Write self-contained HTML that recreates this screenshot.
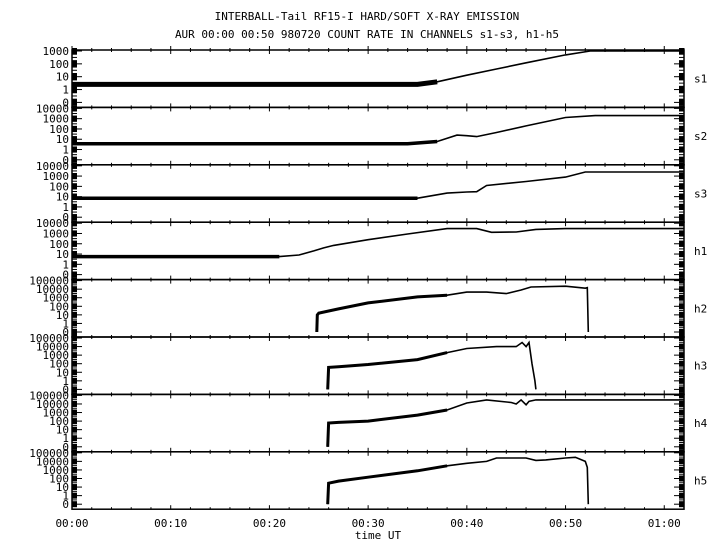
<!DOCTYPE html>
<html><head><meta charset="utf-8"><style>
body{margin:0;background:#fff}
svg{display:block;font-family:"DejaVu Sans Mono","Liberation Mono",monospace}
</style></head><body>
<svg id="c" width="720" height="550" viewBox="0 0 720 550">
<text x="367" y="20" font-size="11" text-anchor="middle">INTERBALL-Tail RF15-I HARD/SOFT X-RAY EMISSION</text>
<text x="367" y="38" font-size="11" text-anchor="middle">AUR 00:00 00:50 980720  COUNT RATE IN CHANNELS s1-s3, h1-h5</text>
<text x="378" y="539" font-size="11" text-anchor="middle">time UT</text>
</svg>
<script>
const panelNames=["s1","s2","s3","h1","h2","h3","h4","h5"];
const panelMax=[1000,10000,10000,10000,100000,100000,100000,100000];
const t_s1=[0,35,37,40,43,46,50,52.5,62];
const v_s1=[2.5,2.5,4,13,40,120,500,1000,1000];
const t_s2=[0,34,37,39,40,41,43,46,50,53,62];
const v_s2=[3.7,3.7,6,25,22,18,45,200,1300,2000,2000];
const t_s3=[0,35,38,40,41,42,46,50,52,62];
const v_s3=[7,7,22,28,30,120,300,800,2500,2500];
const t_h1=[0,21,23,24.5,25.5,26.5,30,34,38,41,42.5,45,47,50,62];
const v_h1=[5.6,5.6,8,20,40,70,250,900,3000,3000,1300,1400,2500,3000,3000];
const t_h2=[24.8,24.85,25,27,30,35,38,40,42,44,45.5,46.5,50,52,52.2,52.3];
const v_h2=[0,10,16,50,250,1250,2000,4500,4500,3000,8000,18000,22000,13000,15000,0];
const t_h3=[25.9,26,27,30,35,38,40,43,45,45.6,46,46.3,46.6,46.9,47];
const v_h3=[0,37,45,80,300,2000,6000,10000,10000,30000,10000,30000,100,1,0];
const t_h4=[25.9,26,27,30,35,38,40,42,44.5,45,45.5,46,46.3,47,62];
const v_h4=[0,60,70,100,500,2000,13000,30000,15000,10000,30000,8000,20000,30000,30000];
const t_h5=[25.9,26,27,30,35,38,40,42,43,46,47,48,50,51,52,52.2,52.3];
const v_h5=[0,28,50,140,800,3000,6000,10000,25000,25000,13000,15000,25000,30000,10000,2000,0];
const noisyUntil=[37,38,36,22,0,0,0,0];
const xTicks=[0,10,20,30,40,50,60];
const xTickLabels=["00:00","00:10","00:20","00:30","00:40","00:50","01:00"];

const T=[t_s1,t_s2,t_s3,t_h1,t_h2,t_h3,t_h4,t_h5];
const V=[v_s1,v_s2,v_s3,v_h1,v_h2,v_h3,v_h4,v_h5];
const svg=document.getElementById('c');
const NS="http://www.w3.org/2000/svg";
const L=72,R=684,top0=50,PH=57.4;
function x(t){return L+t*(R-L)/62;}
function mk(tag,at){const e=document.createElementNS(NS,tag);for(const k in at)e.setAttribute(k,at[k]);svg.appendChild(e);return e;}
panelNames.forEach((nm,i)=>{
  const pt=top0+i*PH, pb=pt+PH;
  const n=Math.round(Math.log10(panelMax[i]))+1;
  const step=(PH-6)/n, y0=pb-5;
  const y=v=>{let k=v<1?v:1+Math.log10(v);return Math.max(pt+0.5,y0-k*step);};
  const fr=mk('rect',{x:L,y:pt,width:R-L,height:PH,fill:'none',stroke:'#000','stroke-width':1.5});
  
  
  for(let m=0;m<=62;m+=2){const big=m%10===0;
    const tk=mk('line',{x1:x(m),x2:x(m),y1:pt-(big?4:2),y2:pt+(big?4:2),stroke:'#000','stroke-width':1});
    
    }
  const labs=["0"];for(let k=0;k<n;k++)labs.push(String(Math.pow(10,k)));
  labs.forEach((lb,k)=>{const yy=y0-k*step;
    const tx=mk('text',{x:L-3,y:yy+4,'font-size':11,'text-anchor':'end'});tx.textContent=lb;
    
    
    mk('rect',{x:L,y:yy-3,width:5,height:6,fill:'#000'});
    mk('line',{x1:L,x2:L+10,y1:yy,y2:yy,stroke:'#000'});
    mk('rect',{x:R-5,y:yy-3,width:5,height:6,fill:'#000'});
    mk('line',{x1:R-10,x2:R,y1:yy,y2:yy,stroke:'#000'});
    for(let s=1;s<4;s++){const ys=yy-s*step/4; if(ys>pt+1){mk('line',{x1:L,x2:L+5,y1:ys,y2:ys,stroke:'#000'});mk('line',{x1:R-5,x2:R,y1:ys,y2:ys,stroke:'#000'});}}
  });
  const nt=mk('text',{x:694,y:pt+PH/2+4,'font-size':11});nt.textContent=nm;
  
  
  const ts=T[i],vs=V[i];
  const pts=ts.map((t,j)=>x(t).toFixed(1)+','+y(vs[j]).toFixed(1)).join(' ');
  const pl=mk('polyline',{points:pts,fill:'none',stroke:'#000','stroke-width':1.6});
  
  
  if(noisyUntil[i]>0){
    const np=[];ts.forEach((t,j)=>{if(t<=noisyUntil[i])np.push(x(t).toFixed(1)+','+y(vs[j]).toFixed(1));});
    const nb=mk('polyline',{points:np.join(' '),fill:'none',stroke:'#000','stroke-width':i===0?5:3.5});
    
    
  } else {
    const np=[];ts.forEach((t,j)=>{if(t<40)np.push(x(t).toFixed(1)+','+y(vs[j]).toFixed(1));});
    const nb=mk('polyline',{points:np.join(' '),fill:'none',stroke:'#000','stroke-width':3});
    
    
  }
});
const bottom=top0+8*PH;
for(let m=0;m<=62;m+=2){const big=m%10===0;mk('line',{x1:x(m),x2:x(m),y1:bottom-(big?4:2),y2:bottom,stroke:'#000'});}
xTicks.forEach((t,j)=>{
  const tx=mk('text',{x:x(t),y:527,'font-size':11,'text-anchor':'middle'});tx.textContent=xTickLabels[j];
  
  
});
</script>
</body></html>
